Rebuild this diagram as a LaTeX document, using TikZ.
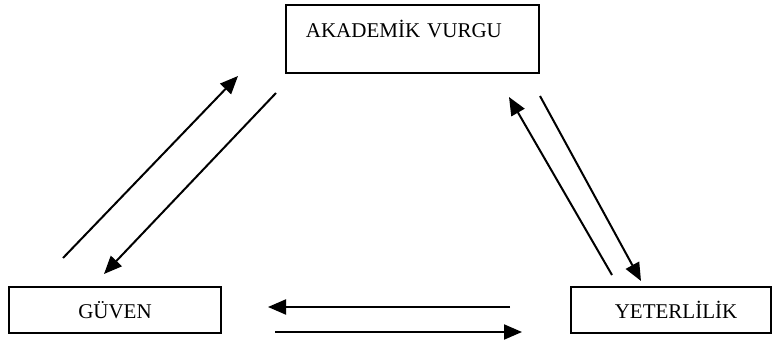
\documentclass[tikz,border=0pt]{standalone}
\usepackage{fontspec}
\setmainfont{Liberation Serif}
\usetikzlibrary{arrows.meta}
\begin{document}
\begin{tikzpicture}[x=1pt,y=-1pt,
  box/.style={draw, line width=1.8pt, inner sep=0pt, font=\fontsize{21}{24}\selectfont},
  arr/.style={line width=2pt, -{Triangle[length=18pt,width=15pt]}}]
\useasboundingbox (0,0) rectangle (773,347);
\node[box, anchor=north west, text width=213pt, inner xsep=20pt, inner ysep=0pt,
      text height=33pt, text depth=35pt, align=left] (ak) at (285,4) {AKADEM\.{I}K VURGU};
\node[box, minimum width=212pt, minimum height=46pt] (gu) at (115,310) {G\"UVEN};
\node[box, minimum width=200pt, minimum height=46pt] (ye) at (671,310) {\hspace{10pt}YETERL\.{I}L\.{I}K};
% arrow end points
\coordinate (a1) at (63,258);  \coordinate (b1) at (238,76);
\coordinate (a2) at (276,93);  \coordinate (b2) at (104,274);
\coordinate (a3) at (612,275); \coordinate (b3) at (509,97);
\coordinate (a4) at (540,96);  \coordinate (b4) at (641,281);
\coordinate (a5) at (510,307); \coordinate (b5) at (268,307);
\coordinate (a6) at (275,332); \coordinate (b6) at (522,332);
\draw[arr] (a1) -- (b1);
\draw[arr] (a2) -- (b2);
\draw[arr] (a3) -- (b3);
\draw[arr] (a4) -- (b4);
\draw[arr] (a5) -- (b5);
\draw[arr] (a6) -- (b6);
\end{tikzpicture}
\end{document}
